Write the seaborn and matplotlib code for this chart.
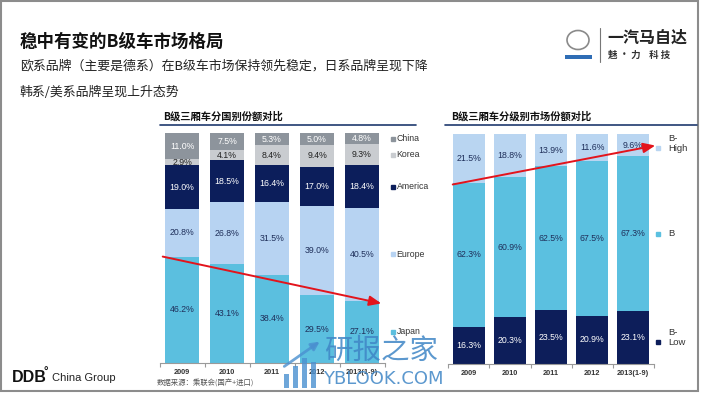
import numpy as np
import pandas as pd
import matplotlib
matplotlib.use('Agg')
import matplotlib.pyplot as plt
from matplotlib.patches import Rectangle, Ellipse
from matplotlib.text import Annotation
import seaborn as sns

# 数据
years = ['2009', '2010', '2011', '2012', '2013(1-9)']

# 分国别 (自下而上)
japan = [46.2, 43.1, 38.4, 29.5, 27.1]
europe = [20.8, 26.8, 31.5, 39.0, 40.5]
america = [19.0, 18.5, 16.4, 17.0, 18.4]
korea = [2.9, 4.1, 8.4, 9.4, 9.3]
china = [11.0, 7.5, 5.3, 5.0, 4.8]
country_names = ['Japan', 'Europe', 'America', 'Korea', 'China']

# 分级别 (自下而上)
b_low = [16.3, 20.3, 23.5, 20.9, 23.1]
b_mid = [62.3, 60.9, 62.5, 67.5, 67.3]
b_high = [21.5, 18.8, 13.9, 11.6, 9.6]
level_names = ['B-\nLow', 'B', 'B-\nHigh']

sns.set_theme(style='white')
plt.rcParams['font.family'] = ['Noto Sans CJK SC', 'DejaVu Sans']
NUM_FONT = ['Liberation Sans', 'DejaVu Sans']

W, H = 702, 395
fig = plt.figure(figsize=(W / 100, H / 100), dpi=100)


def px_axes(x0, y_top, w, h):
    # 像素坐标 -> figure 坐标
    return fig.add_axes([x0 / W, (H - y_top - h) / H, w / W, h / H])


def stacked(ax, layers, colors, txt_colors, width):
    df = pd.DataFrame(np.array(layers).T, index=years)
    cum = df.cumsum(axis=1)
    # 从顶层往下画累计值
    for i in reversed(range(df.shape[1])):
        sns.barplot(x=years, y=cum[i].values, color=colors[i], width=width,
                    saturation=1, ax=ax, linewidth=0)
    for i in range(df.shape[1]):
        for j in range(len(years)):
            v = df.iloc[j, i]
            mid = cum.iloc[j, i] - v / 2
            ax.text(j, mid, f'{v:.1f}%', ha='center', va='center',
                    fontsize=6.3, color=txt_colors[i], family=NUM_FONT)
    ax.set_xlim(-0.5, 4.5)
    ax.set_ylim(0, 100.1)
    ax.set_yticks([])
    ax.set_ylabel('')
    for s in ['top', 'right', 'left']:
        ax.spines[s].set_visible(False)
    ax.spines['bottom'].set_color('#9a9a9a')
    ax.spines['bottom'].set_linewidth(0.8)
    ax.set_xticks(range(len(years)))
    ax.set_xticklabels(years, fontsize=5.3, fontweight='bold', color='#333333',
                       family=NUM_FONT)
    ax.set_xticks(np.arange(-0.5, 5, 1), minor=True)
    ax.tick_params(axis='x', which='major', length=0, pad=4)
    ax.tick_params(axis='x', which='minor', length=3, color='#9a9a9a', width=0.8,
                   bottom=True)
    return cum


last = len(years) - 1

# 左图: 分国别
ax1 = px_axes(159.5, 133, 225, 230)
c_left = ['#5BBFDF', '#B7D3F2', '#0C1E5B', '#C9CCD0', '#8D949C']
t_left = ['#1F2F5A', '#1F2F5A', 'white', '#222222', 'white']
left_layers = [japan, europe, america, korea, china]
cum1 = stacked(ax1, left_layers, c_left, t_left, 0.76)

for i, name in enumerate(country_names):
    v = left_layers[i][last]
    yy = cum1.iloc[last, i] - v / 2
    ax1.plot([4.68], [yy], marker='s', ms=3.3, color=c_left[i], clip_on=False)
    ax1.text(4.77, yy, name, fontsize=6.3, va='center', ha='left', color='#333333',
             family=NUM_FONT, clip_on=False)

# 右图: 分级别
ax2 = px_axes(448.5, 134, 205, 230)
c_right = ['#0D1E5A', '#5BC0E0', '#B9D5F1']
t_right = ['white', '#1F2F5A', '#1F2F5A']
right_layers = [b_low, b_mid, b_high]
cum2 = stacked(ax2, right_layers, c_right, t_right, 0.78)

for i, name in enumerate(level_names):
    v = right_layers[i][last]
    yy = cum2.iloc[last, i] - v / 2
    if i == 2:
        yy = 96
    sq = yy - 2 if '\n' in name else yy
    ax2.plot([4.61], [sq], marker='s', ms=3.3, color=c_right[i], clip_on=False)
    ax2.text(4.86, yy, name, fontsize=6.8, va='center', ha='left', color='#333333',
             family=NUM_FONT, linespacing=1.15, clip_on=False)


def ft(x, y, s, **kw):
    fig.text(x / W, 1 - y / H, s, **kw)


# 标题与说明
ft(20, 42, '稳中有变的B级车市场格局', fontsize=12.6, fontweight='bold', va='center',
   color='#111111')
ft(20, 66, '欧系品牌（主要是德系）在B级车市场保持领先稳定，日系品牌呈现下降',
   fontsize=9.3, va='center', color='#222222')
ft(20, 92, '韩系/美系品牌呈现上升态势', fontsize=9.3, va='center', color='#222222')

# 小标题和下划线
ft(163, 116, 'B级三厢车分国别份额对比', fontsize=7.4, fontweight='bold', va='center',
   color='#111111')
ft(451, 116, 'B级三厢车分级别市场份额对比', fontsize=7.4, fontweight='bold', va='center',
   color='#111111')
fig.add_artist(plt.Line2D([160 / W, 416 / W], [1 - 125 / H] * 2, color='#1F3A6E', lw=1.2))
fig.add_artist(plt.Line2D([445 / W, 697 / W], [1 - 125 / H] * 2, color='#1F3A6E', lw=1.2))

# 数据来源
ft(157, 384, '数据来源：乘联会(国产+进口)', fontsize=5.3, va='center', color='#555555')

# 红色箭头
arrow = dict(arrowstyle='-|>,head_length=0.6,head_width=0.25', color='#E3141C', lw=1.4)
fig.add_artist(Annotation('', xy=(384, H - 304), xytext=(160, H - 256),
               xycoords='figure pixels', textcoords='figure pixels', arrowprops=arrow))
fig.add_artist(Annotation('', xy=(658, H - 145), xytext=(450, H - 185),
               xycoords='figure pixels', textcoords='figure pixels', arrowprops=arrow))

# 右上角标志
fig.add_artist(Ellipse((578 / W, 1 - 40 / H), 22 / W, 19 / H,
               fill=False, ec='#8a8a8a', lw=1.2))
fig.add_artist(Rectangle((565 / W, 1 - 59 / H), 27 / W, 4 / H, fc='#2F6DB5', ec='none'))
fig.add_artist(plt.Line2D([600 / W, 600 / W], [1 - 28 / H, 1 - 62 / H], color='#777777', lw=0.8))
ft(607, 38, '一汽马自达', fontsize=11.5, fontweight='bold', va='center', color='#222222')
ft(608, 55, '魅 · 力    科 技', fontsize=6.8, fontweight='bold', va='center', color='#333333')

# 左下角 DDB
ft(12, 377, 'DDB', fontsize=11.5, fontweight='bold', va='center', color='#111111',
   family=NUM_FONT)
ft(43, 372, '°', fontsize=8, fontweight='bold', va='center', color='#111111',
   family=NUM_FONT)
ft(52, 378, 'China Group', fontsize=8, va='center', color='#222222', family=NUM_FONT)

# 水印
for k, hh in enumerate([14, 22, 30, 26]):
    fig.add_artist(Rectangle(((284 + k * 9) / W, (H - 388) / H), 5 / W, hh / H,
                             fc='#4A90D0', ec='none', alpha=0.8))
fig.add_artist(Annotation('', xy=(322, H - 340), xytext=(282, H - 368),
               xycoords='figure pixels', textcoords='figure pixels',
               arrowprops=dict(arrowstyle='-|>', color='#4A90D0', lw=2, alpha=0.8)))
ft(324, 351, '研报之家', fontsize=20.5, va='center', color='#3F86C6', alpha=0.85)
ft(323, 379, 'YBLOOK.COM', fontsize=13, va='center', color='#3F86C6', alpha=0.85,
   family=['DejaVu Sans'])

# 页框
fig.add_artist(Rectangle((1 / W, 4 / H), 697 / W, 390 / H, fill=False, ec='#8c8c8c', lw=1.5))

fig.savefig('out.png', dpi=100)
